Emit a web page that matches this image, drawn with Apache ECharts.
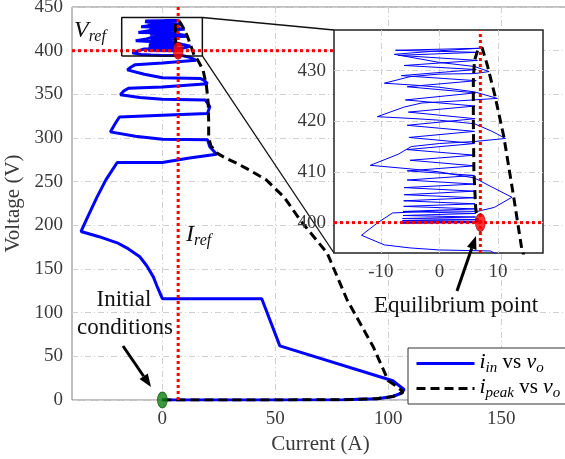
<!DOCTYPE html>
<html>
<head>
<meta charset="utf-8">
<script src="https://cdn.jsdelivr.net/npm/echarts@6/dist/echarts.min.js"></script>
<style>
html, body { margin: 0; padding: 0; background: #fff; }
#chart { width: 565px; height: 459px; }
</style>
</head>
<body>
<div id="chart"></div>
<script>
// i_in vs v_o trajectory [current (A), voltage (V)]
const iinPath = [
    [0, 0], [40, 0], [80, 0.3], [95, 1.5], [102, 4], [106, 8], [107, 12], [105, 16], [102, 22],
    [52, 62], [44, 116], [0, 116], [-2, 128], [-4, 141], [-7, 154], [-10, 164], [-15, 173], [-20, 180], [-28, 187], [-36, 193],
    [-33, 210], [-29, 232], [-25, 252], [-20, 272], [0, 272], [12, 277], [24, 281.5], [21, 290], [20, 298],
    [0, 298.5], [-12, 302], [-23, 307], [-21, 316], [-19, 324], [0, 326], [20, 328], [21, 336], [19, 343.5],
    [0, 344.5], [-10, 346.5], [-18.6, 349.4], [-17, 354], [-15, 357], [0, 358.5], [20, 362], [18.5, 366], [17, 368],
    [0, 369], [-8, 373], [-15.5, 378], [-14, 381], [-12, 384], [0, 386], [15, 389],
    [12, 392.5], [8.7, 394.4], [0, 394.6], [-5, 395], [-9.4, 395.6], [-13.3, 397.5], [-10.5, 400], [-8, 401.9],
    [0, 402.3], [6.5, 402.2], [9.4, 403], [12.4, 405], [9, 407], [6, 408.8], [0, 410], [-5, 410.6], [-11.8, 411.3],
    [-7, 413.5], [-4.8, 415], [0, 415.6], [6, 416], [11.3, 416.6], [9, 418], [6, 419.5], [0, 420.2], [-4, 420.5],
    [-10.6, 420.9], [-6, 422.8], [-3, 423.6], [3, 424], [9.9, 424.5], [6, 425.8], [0, 426.7], [-4, 427.1], [-9.4, 427.5],
    [-5, 428.8], [0, 429.3], [6, 429.4], [8.5, 429.8], [6, 430.8], [0, 431.6], [-7.7, 433.2], [0, 433.9], [7, 434.4],
    [-7.5, 434], [6.5, 433.6], [-7, 433], [6.5, 432], [-6, 431], [6.3, 430.2], [-6.5, 429], [6.3, 428], [-5.5, 426.8],
    [6.2, 425.6], [-5.8, 424.2], [6.1, 423], [-5.3, 421.8], [6.1, 420.5], [-5.5, 419.2], [6, 418], [-5.2, 416.8],
    [6, 415.6], [-5.5, 414.4], [6, 413.3], [-5, 412.3], [6, 411.2], [-5.5, 410.2], [6, 409.3], [-5.5, 408.4],
    [6, 407.6], [-6, 406.9], [6, 406.2], [-6, 405.5], [6, 404.9], [-6.1, 404.3], [6.1, 403.7], [-6.1, 403.2],
    [6.1, 402.7], [-6.2, 402.2], [6.2, 401.8], [-6.2, 401.4], [6.2, 401.1], [-6.3, 400.8], [6.3, 400.6], [-6.3, 400.4],
    [6.3, 400.25], [-6.3, 400.1], [6.3, 400], [-6.3, 399.9], [6.5, 400]
];

// i_peak vs v_o
const ipeakPath = [
    [0, 0], [40, 0], [80, 0.3], [95, 1.5], [102, 4], [106.6, 9], [104, 15], [100, 22], [93.4, 60.7], [81.8, 114.5],
    [73, 168], [61, 206], [54, 232], [46, 252], [38, 264], [33, 271], [28, 277], [24, 283], [21.5, 291], [20.5, 300],
    [20.5, 320], [20.3, 340], [19.5, 360], [18, 378], [15.5, 390], [14.1, 394.6], [12.7, 405], [11, 417], [9.5, 425],
    [8.2, 431], [7.3, 434.5], [6.6, 434.2], [6.0, 432], [5.8, 428], [5.8, 420], [5.9, 410], [6.2, 403], [6.5, 400]
];

const iRef = 7;
const vRef = 400;
const initialPoint = [0, 0];
const equilibriumPoint = [7, 400];

const xTicks = [0, 50, 100, 150];
const insetXTicks = [-10, 0, 10];
const insetYTicks = [400, 410, 420, 430];
const insetCurrentRange = [-18, 17.7];
const insetVoltageRange = [394, 438];

const serif = 'Liberation Serif';
const gridLine = { show: true, lineStyle: { color: '#d0d0d0', width: 1, type: [6, 3, 1, 3] } };
const redDots = { color: '#ff0000', width: 3, type: [3, 3] };
const tickLabel = { fontFamily: serif, fontSize: 19, color: '#3a3a3a' };
const richSub = {
    it: { fontFamily: serif, fontStyle: 'italic', fontSize: 22, verticalAlign: 'top', color: '#000' },
    s: { fontFamily: serif, fontStyle: 'italic', fontSize: 15, verticalAlign: 'top', padding: [10, 0, 0, 0], color: '#000' },
    n: { fontFamily: serif, fontSize: 21, verticalAlign: 'top', padding: [1, 0, 0, 0], color: '#000' }
};

const chart = echarts.init(document.getElementById('chart'));

const option = {
    animation: false,
    backgroundColor: '#fff',
    grid: [
        { left: 72, top: 7, width: 497, height: 393, outerBoundsMode: 'none', show: true, borderColor: '#808080', borderWidth: 1, z: 0 },
        { left: 334, top: 30, width: 209, height: 223, outerBoundsMode: 'none', show: true, backgroundColor: '#fff', borderColor: '#222', borderWidth: 1.5, z: 5 }
    ],
    xAxis: [
        {
            gridIndex: 0, type: 'value', min: -40, max: 180,
            axisLine: { show: false },
            axisTick: { show: false, customValues: xTicks },
            axisLabel: Object.assign({ customValues: xTicks, margin: 10 }, tickLabel),
            splitLine: gridLine,
            name: 'Current (A)', nameLocation: 'middle', nameGap: 28,
            nameTextStyle: { fontFamily: serif, fontSize: 21, color: '#3a3a3a' }
        },
        {
            gridIndex: 1, type: 'value', min: insetCurrentRange[0], max: insetCurrentRange[1], z: 6,
            axisLine: { show: false },
            axisTick: { show: false, customValues: insetXTicks },
            axisLabel: Object.assign({ customValues: insetXTicks, margin: 10 }, tickLabel),
            splitLine: gridLine
        }
    ],
    yAxis: [
        {
            gridIndex: 0, type: 'value', min: 0, max: 450, interval: 50,
            axisLine: { show: false },
            axisTick: { show: false },
            axisLabel: Object.assign({ margin: 9 }, tickLabel),
            splitLine: gridLine,
            name: 'Voltage (V)', nameLocation: 'middle', nameGap: 44, nameRotate: 90,
            nameTextStyle: { fontFamily: serif, fontSize: 21, color: '#3a3a3a' }
        },
        {
            gridIndex: 1, type: 'value', min: insetVoltageRange[0], max: insetVoltageRange[1], z: 6,
            axisLine: { show: false },
            axisTick: { show: false, customValues: insetYTicks },
            axisLabel: Object.assign({ customValues: insetYTicks, margin: 8 }, tickLabel),
            splitLine: gridLine
        }
    ],
    legend: {
        data: ['iin', 'ipeak'],
        orient: 'vertical',
        left: 408, top: 348,
        itemWidth: 58, itemHeight: 14, itemGap: 0,
        padding: [3, 20, 3, 7],
        borderColor: '#333', borderWidth: 1, backgroundColor: '#fff',
        itemStyle: { opacity: 0 },
        lineStyle: { width: 3 },
        z: 20,
        formatter: function (name) {
            return name === 'iin'
                ? '{it|i}{s|in}{n| vs }{it|v}{s|o}'
                : '{it|i}{s|peak}{n| vs }{it|v}{s|o}';
        },
        textStyle: { rich: richSub }
    },
    series: [
        {
            name: 'iin', type: 'line', xAxisIndex: 0, yAxisIndex: 0, data: iinPath,
            symbol: 'none', itemStyle: { color: 'rgba(0,0,0,0)' },
            lineStyle: { color: '#0000ff', width: 3 }, z: 2, silent: true
        },
        {
            name: 'ipeak', type: 'line', xAxisIndex: 0, yAxisIndex: 0, data: ipeakPath,
            symbol: 'none', itemStyle: { color: 'rgba(0,0,0,0)' },
            lineStyle: { color: '#000', width: 3, type: [9, 5] }, z: 3, silent: true
        },
        {
            type: 'line', xAxisIndex: 0, yAxisIndex: 0, data: [[iRef, 0], [iRef, 450]],
            symbol: 'none', lineStyle: redDots, z: 4, silent: true
        },
        {
            type: 'line', xAxisIndex: 0, yAxisIndex: 0, data: [[-40, vRef], [150, vRef]],
            symbol: 'none', lineStyle: redDots, z: 4, silent: true
        },
        {
            type: 'line', xAxisIndex: 0, yAxisIndex: 0,
            data: [
                [insetCurrentRange[0], insetVoltageRange[0]], [insetCurrentRange[1], insetVoltageRange[0]],
                [insetCurrentRange[1], insetVoltageRange[1]], [insetCurrentRange[0], insetVoltageRange[1]],
                [insetCurrentRange[0], insetVoltageRange[0]]
            ],
            symbol: 'none', lineStyle: { color: '#111', width: 1.5 }, z: 4, silent: true
        },
        {
            type: 'scatter', xAxisIndex: 0, yAxisIndex: 0, data: [equilibriumPoint],
            symbol: 'circle', symbolSize: [10, 17],
            itemStyle: { color: '#ff0000', borderColor: '#8b0000', borderWidth: 0.8 }, z: 5, silent: true
        },
        {
            type: 'scatter', xAxisIndex: 0, yAxisIndex: 0, data: [initialPoint],
            symbol: 'circle', symbolSize: [10, 16],
            itemStyle: { color: '#0d7f0d', borderColor: '#064d06', borderWidth: 0.8 }, z: 5, silent: true
        },
        // inset
        {
            name: 'iin', type: 'line', xAxisIndex: 1, yAxisIndex: 1, data: iinPath,
            symbol: 'none', itemStyle: { color: 'rgba(0,0,0,0)' },
            lineStyle: { color: '#0000ff', width: 1 }, z: 7, silent: true
        },
        {
            name: 'ipeak', type: 'line', xAxisIndex: 1, yAxisIndex: 1, data: ipeakPath,
            symbol: 'none', itemStyle: { color: 'rgba(0,0,0,0)' },
            lineStyle: { color: '#000', width: 3, type: [9, 5] }, z: 8, silent: true
        },
        {
            type: 'line', xAxisIndex: 1, yAxisIndex: 1, data: [[iRef, insetVoltageRange[0]], [iRef, insetVoltageRange[1]]],
            symbol: 'none', lineStyle: redDots, z: 9, silent: true
        },
        {
            type: 'line', xAxisIndex: 1, yAxisIndex: 1, data: [[insetCurrentRange[0], vRef], [insetCurrentRange[1], vRef]],
            symbol: 'none', lineStyle: redDots, z: 9, silent: true
        },
        {
            type: 'scatter', xAxisIndex: 1, yAxisIndex: 1, data: [equilibriumPoint],
            symbol: 'circle', symbolSize: [10, 18],
            itemStyle: { color: '#ff0000', borderColor: '#8b0000', borderWidth: 0.8 }, z: 10, silent: true
        }
    ]
};

chart.setOption(option);

// arrow made of a line and a filled head
function arrow(x1, y1, x2, y2) {
    const a = Math.atan2(y2 - y1, x2 - x1);
    const len = 13, half = 5;
    const bx = x2 - len * Math.cos(a), by = y2 - len * Math.sin(a);
    return [
        { type: 'line', z: 30, shape: { x1: x1, y1: y1, x2: bx, y2: by }, style: { stroke: '#000', lineWidth: 3 } },
        {
            type: 'polygon', z: 30,
            shape: { points: [[x2, y2], [bx + half * Math.sin(a), by - half * Math.cos(a)], [bx - half * Math.sin(a), by + half * Math.cos(a)]] },
            style: { fill: '#000' }
        }
    ];
}

// connector lines between zoom box and inset
const boxTopRight = chart.convertToPixel({ gridIndex: 0 }, [insetCurrentRange[1], insetVoltageRange[1]]);
const boxBottomRight = chart.convertToPixel({ gridIndex: 0 }, [insetCurrentRange[1], insetVoltageRange[0]]);
const insetTopLeft = chart.convertToPixel({ gridIndex: 1 }, [insetCurrentRange[0], insetVoltageRange[1]]);
const insetBottomLeft = chart.convertToPixel({ gridIndex: 1 }, [insetCurrentRange[0], insetVoltageRange[0]]);

const refRich = {
    it: { fontFamily: serif, fontStyle: 'italic', fontSize: 24, verticalAlign: 'top', fill: '#111' },
    s: { fontFamily: serif, fontStyle: 'italic', fontSize: 16, verticalAlign: 'top', padding: [10, 0, 0, 0], fill: '#111' }
};
const textStyle = { fontFamily: serif, fontSize: 23, fill: '#111' };
const graphics = [
    { type: 'line', z: 4, shape: { x1: boxTopRight[0], y1: boxTopRight[1], x2: insetTopLeft[0], y2: insetTopLeft[1] }, style: { stroke: '#111', lineWidth: 1.3 } },
    { type: 'line', z: 4, shape: { x1: boxBottomRight[0], y1: boxBottomRight[1], x2: insetBottomLeft[0], y2: insetBottomLeft[1] }, style: { stroke: '#111', lineWidth: 1.3 } },
    { type: 'text', z: 30, x: 74, y: 19, style: { text: '{it|V}{s|ref}', rich: refRich } },
    { type: 'text', z: 30, x: 186, y: 223, style: { text: '{it|I}{s|ref}', rich: refRich } },
    { type: 'text', z: 30, x: 124, y: 300, style: Object.assign({ text: 'Initial', align: 'center', verticalAlign: 'middle' }, textStyle) },
    { type: 'text', z: 30, x: 125, y: 328, style: Object.assign({ text: 'conditions', align: 'center', verticalAlign: 'middle' }, textStyle) },
    { type: 'text', z: 30, x: 456, y: 306, style: Object.assign({ text: 'Equilibrium point', align: 'center', verticalAlign: 'middle' }, textStyle) }
].concat(arrow(123, 346, 151, 387), arrow(457, 291, 476, 236));

chart.setOption({ graphic: graphics });

window.addEventListener('resize', function () {
    chart.resize();
});
</script>
</body>
</html>
